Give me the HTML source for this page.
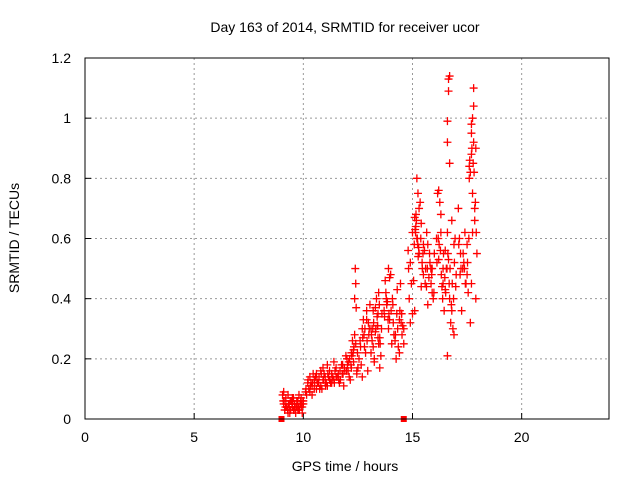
<!DOCTYPE html>
<html><head><meta charset="utf-8"><style>
body{margin:0;background:#fff;}
svg text{font-family:"Liberation Sans",sans-serif;font-size:14px;fill:#000;}
</style></head><body>
<svg id="chart" width="640" height="480" xmlns="http://www.w3.org/2000/svg">
<text x="345" y="32" text-anchor="middle">Day 163 of 2014, SRMTID for receiver ucor</text>
<text x="345" y="471" text-anchor="middle">GPS time / hours</text>
<text transform="translate(19,238) rotate(-90)" text-anchor="middle">SRMTID / TECUs</text>
<g id="grid"></g><g id="ticks"></g><g id="marks"></g>
<rect x="85" y="58" width="524" height="361" fill="none" stroke="#000" stroke-width="1"/>
</svg>
<script>
const xTicks=[0,5,10,15,20];
const yTicks=[0,0.2,0.4,0.6,0.8,1,1.2];
const yTickLabels=["0","0.2","0.4","0.6","0.8","1","1.2"];
const times=[9.05,9.1,9.15,9.2,9.25,9.3,9.35,9.4,9.45,9.5,9.55,9.6,9.65,9.7,9.75,9.8,9.85,9.9,9.95,10.0,9.1,9.2,9.3,9.4,9.5,9.6,9.7,9.8,9.9,10.0,9.15,9.35,9.55,9.75,9.95,
9.12,9.22,9.32,9.42,9.52,9.62,9.72,9.82,9.92,9.08,9.28,9.48,9.68,9.88,9.18,9.38,9.58,9.78,9.98,
10.1,10.2,10.3,10.4,10.5,10.6,10.7,10.8,10.9,11.0,11.1,11.2,11.3,11.4,11.5,10.3,10.5,10.7,10.9,11.1,11.3,11.5,10.4,10.6,10.8,11.0,11.2,11.4,10.45,10.85,
10.15,10.25,10.35,10.55,10.65,10.75,10.95,11.05,11.15,11.25,11.35,11.45,10.22,10.42,10.62,10.82,11.02,11.22,11.42,10.12,10.32,10.52,10.72,10.92,11.12,11.32,
11.6,11.7,11.8,11.9,12.0,12.1,12.2,12.3,12.4,12.5,11.65,11.85,12.05,12.25,12.45,11.75,11.95,12.15,12.35,12.35,12.38,12.4,12.42,12.3,12.45,12.55,
11.55,11.68,11.78,11.88,11.98,12.08,12.18,12.28,11.62,11.82,12.02,12.22,12.12,12.32,12.48,12.2,
12.6,12.7,12.8,12.9,13.0,13.1,13.2,13.3,13.4,13.5,13.6,12.65,12.85,13.05,13.25,13.45,12.75,12.95,13.15,13.35,13.55,12.7,12.9,13.1,13.3,13.5,13.2,13.25,13.4,
12.62,12.72,12.82,12.92,13.02,13.12,13.22,13.32,13.42,13.52,12.78,12.98,13.18,13.38,13.58,13.45,13.48,13.42,
13.7,13.8,13.9,14.0,14.1,14.2,14.3,14.4,14.5,14.6,13.75,13.95,14.15,14.35,14.55,13.85,14.05,14.25,14.45,13.9,13.95,14.4,14.5,14.6,
13.72,13.82,13.92,14.02,14.12,14.22,14.32,14.42,14.52,13.78,13.88,14.08,14.28,14.48,
14.8,14.9,15.0,15.1,15.2,15.3,15.4,15.5,15.6,15.7,15.8,15.9,16.0,14.85,15.05,15.25,15.45,15.65,15.85,14.9,15.1,15.3,15.5,15.7,15.9,15.2,15.3,15.4,15.15,15.35,15.55,15.75,15.95,15.0,
14.82,14.95,15.08,15.12,15.18,15.22,15.28,15.38,15.48,15.58,15.68,15.78,15.88,15.98,15.14,15.24,15.44,15.64,15.84,15.16,15.26,
16.1,16.2,16.3,16.4,16.5,16.6,16.7,16.8,16.9,17.0,16.15,16.35,16.55,16.75,16.95,16.25,16.45,16.65,16.85,16.6,16.6,16.65,16.65,16.7,16.7,16.9,16.6,16.8,16.2,16.4,16.3,16.5,
16.12,16.22,16.32,16.42,16.52,16.62,16.72,16.82,16.92,16.18,16.38,16.58,16.78,16.98,16.28,16.48,16.68,16.88,
17.1,17.2,17.3,17.4,17.5,17.6,17.7,17.8,17.9,17.15,17.35,17.55,17.75,17.25,17.45,17.65,17.85,17.6,17.7,17.75,17.8,17.7,17.8,17.75,17.65,17.85,17.7,17.9,17.95,17.5,
17.12,17.22,17.32,17.42,17.52,17.62,17.72,17.82,17.92,17.18,17.38,17.58,17.78,17.88];
const values=[0.08,0.05,0.03,0.06,0.04,0.02,0.05,0.03,0.06,0.04,0.03,0.05,0.02,0.04,0.06,0.03,0.05,0.04,0.02,0.05,0.09,0.07,0.08,0.06,0.07,0.05,0.06,0.08,0.07,0.06,0.03,0.04,0.07,0.03,0.04,
0.06,0.04,0.05,0.03,0.06,0.04,0.05,0.03,0.05,0.06,0.03,0.05,0.04,0.06,0.04,0.02,0.03,0.04,0.06,
0.09,0.12,0.14,0.11,0.13,0.15,0.12,0.16,0.13,0.14,0.11,0.16,0.15,0.13,0.17,0.09,0.1,0.12,0.17,0.18,0.12,0.14,0.08,0.1,0.11,0.12,0.13,0.19,0.15,0.1,
0.08,0.1,0.12,0.14,0.12,0.1,0.15,0.12,0.14,0.12,0.14,0.16,0.13,0.12,0.13,0.15,0.11,0.13,0.12,0.1,0.11,0.12,0.14,0.13,0.15,0.13,
0.15,0.13,0.18,0.16,0.2,0.14,0.22,0.19,0.25,0.17,0.12,0.11,0.16,0.26,0.15,0.18,0.21,0.13,0.28,0.4,0.5,0.45,0.37,0.23,0.16,0.2,
0.14,0.16,0.15,0.17,0.16,0.19,0.18,0.22,0.13,0.15,0.18,0.21,0.2,0.24,0.22,0.17,
0.26,0.3,0.24,0.33,0.28,0.22,0.36,0.29,0.31,0.27,0.35,0.18,0.22,0.38,0.2,0.25,0.33,0.16,0.26,0.4,0.21,0.14,0.36,0.3,0.37,0.17,0.24,0.19,0.31,
0.24,0.27,0.3,0.26,0.3,0.28,0.32,0.3,0.27,0.25,0.28,0.32,0.3,0.34,0.3,0.42,0.38,0.35,
0.36,0.4,0.3,0.48,0.38,0.26,0.43,0.33,0.35,0.25,0.46,0.33,0.28,0.24,0.31,0.39,0.25,0.2,0.45,0.5,0.47,0.22,0.35,0.3,
0.34,0.38,0.35,0.36,0.32,0.28,0.3,0.36,0.28,0.42,0.33,0.4,0.35,0.32,
0.56,0.52,0.62,0.67,0.6,0.55,0.65,0.48,0.5,0.58,0.52,0.42,0.55,0.4,0.46,0.75,0.5,0.62,0.45,0.32,0.36,0.7,0.58,0.38,0.5,0.8,0.55,0.44,0.64,0.72,0.56,0.47,0.4,0.35,
0.5,0.45,0.58,0.63,0.66,0.6,0.57,0.6,0.55,0.45,0.5,0.55,0.48,0.42,0.62,0.58,0.52,0.44,0.5,0.68,0.54,
0.6,0.53,0.68,0.45,0.56,0.62,0.4,0.36,0.58,0.48,0.75,0.44,0.5,0.32,0.6,0.72,0.36,0.53,0.3,0.92,0.99,1.09,1.13,1.14,0.85,0.28,0.21,0.66,0.76,0.5,0.62,0.43,
0.52,0.58,0.48,0.55,0.42,0.55,0.5,0.45,0.52,0.6,0.4,0.5,0.38,0.44,0.56,0.47,0.45,0.4,
0.7,0.55,0.5,0.62,0.48,0.84,0.98,1.04,0.9,0.6,0.52,0.42,0.75,0.36,0.45,0.32,0.66,0.8,0.95,1.0,1.1,0.88,0.92,0.62,0.82,0.7,0.45,0.4,0.55,0.58,
0.58,0.5,0.55,0.45,0.52,0.86,0.9,0.82,0.62,0.48,0.5,0.6,0.85,0.72];
const X=t=>85+t*(524/24), Y=v=>419-v*(361/1.2);
const NS="http://www.w3.org/2000/svg";
const grid=document.getElementById('grid'),ticks=document.getElementById('ticks'),marks=document.getElementById('marks');
function mk(tag,attrs,parent){const e=document.createElementNS(NS,tag);for(const k in attrs)e.setAttribute(k,attrs[k]);parent.appendChild(e);return e;}
xTicks.forEach(t=>{
  if(t>0){const g=mk('line',{x1:X(t),x2:X(t),y1:58,y2:419,stroke:'#999','stroke-dasharray':'2,3'},grid);
  
  }
  const tk=mk('line',{x1:X(t),x2:X(t),y1:419,y2:413,stroke:'#000'},ticks);
  
  
  const lb=mk('text',{x:X(t),y:442,'text-anchor':'middle'},ticks);lb.textContent=t;
  
  
});
yTicks.forEach((v,i)=>{
  if(v>0&&v<1.2){const g=mk('line',{x1:85,x2:609,y1:Y(v),y2:Y(v),stroke:'#999','stroke-dasharray':'2,3'},grid);
  
  }
  const tk=mk('line',{x1:85,x2:91,y1:Y(v),y2:Y(v),stroke:'#000'},ticks);
  
  
  const lb=mk('text',{x:71,y:Y(v)+5,'text-anchor':'end'},ticks);lb.textContent=yTickLabels[i];
  
  
});
times.forEach((t,i)=>{
  const x=X(t),y=Y(values[i]);
  const p=mk('path',{d:`M${x-4},${y}H${x+4}M${x},${y-4}V${y+4}`,stroke:'#f00','stroke-width':1.3,fill:'none'},marks);
  
  
});
const gapTimes=[9.0,14.6];
gapTimes.forEach(t=>{
  const r=mk('rect',{x:X(t)-3,y:416,width:6,height:6,fill:'#f00'},marks);
  
  
});
</script>
</body></html>
